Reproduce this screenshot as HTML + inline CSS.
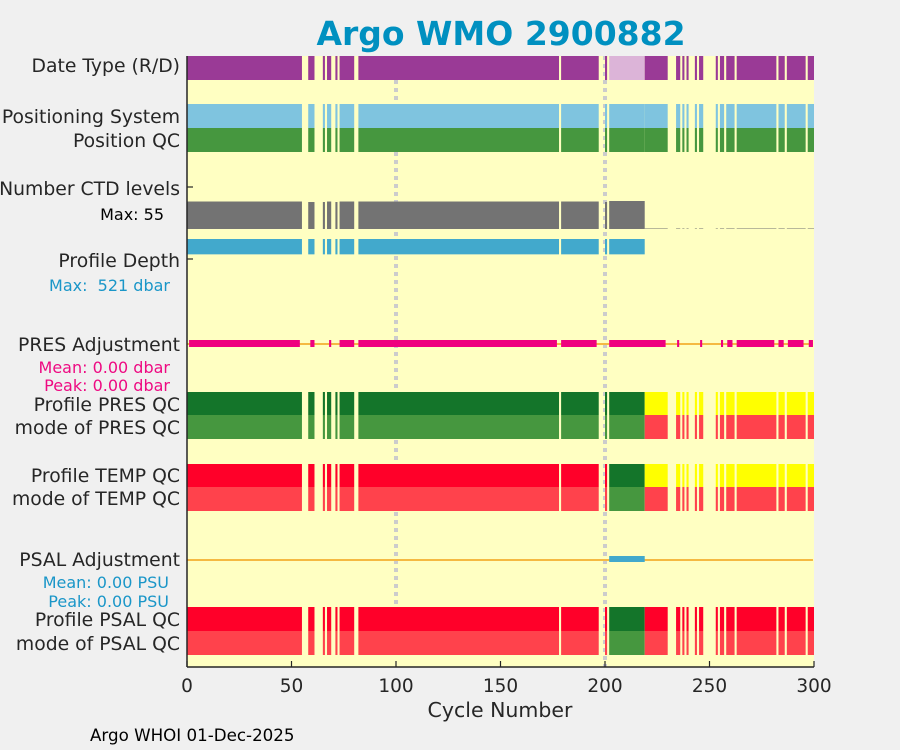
<!DOCTYPE html>
<html><head><meta charset="utf-8"><style>
html,body{margin:0;padding:0;background:#f0f0f0;}
svg{display:block;font-family:"DejaVu Sans","Liberation Sans",sans-serif;}
</style></head><body>
<svg id="chart" width="900" height="750">
<rect x="187" y="56" width="627" height="611" fill="#ffffc2"/>
<text x="501" y="45" text-anchor="middle" font-size="33" font-weight="bold" fill="#0090c0">Argo WMO 2900882</text>
<g id="labels" font-size="18.8" fill="#262626" text-anchor="end">
<text x="180" y="72">Date Type (R/D)</text>
<text x="180" y="123">Positioning System</text>
<text x="180" y="147">Position QC</text>
<text x="180" y="195">Number CTD levels</text>
<text x="164" y="220" font-size="16" fill="#000">Max: 55</text>
<text x="180" y="267">Profile Depth</text>
<text x="170" y="291" font-size="16" fill="#1a96c8" xml:space="preserve">Max:  521 dbar</text>
<text x="180" y="351">PRES Adjustment</text>
<text x="170" y="373" font-size="16" fill="#ee0a82">Mean: 0.00 dbar</text>
<text x="170" y="391" font-size="16" fill="#ee0a82">Peak: 0.00 dbar</text>
<text x="180" y="411">Profile PRES QC</text>
<text x="180" y="434">mode of PRES QC</text>
<text x="180" y="482">Profile TEMP QC</text>
<text x="180" y="505">mode of TEMP QC</text>
<text x="180" y="566">PSAL Adjustment</text>
<text x="169" y="588" font-size="16" fill="#1a96c8">Mean: 0.00 PSU</text>
<text x="169" y="607" font-size="16" fill="#1a96c8">Peak: 0.00 PSU</text>
<text x="180" y="626">Profile PSAL QC</text>
<text x="180" y="650">mode of PSAL QC</text>
</g>
<g id="marks"></g>
<text x="500" y="717" text-anchor="middle" font-size="20.5" fill="#262626">Cycle Number</text>
<text x="90" y="741" font-size="16.7" fill="#000">Argo WHOI 01-Dec-2025</text>
</svg>
<script>
const segStart=[0,58,65,67,71,73,82,179,200,202,219,234,237,239,243,245,253,255,258,263,283,287,297];
const segEnd=[55,61,66,69,72,80,178,197,201,219,230,236,238,240,244,247,254,257,262,282,286,296,300];
const dateType=['R','R','R','R','R','R','R','R','R','D','R','R','R','R','R','R','R','R','R','R','R','R','R'];
const ctdLevels=[54,53,53,54,53,54,54,54,53,55,1,1,1,1,1,1,1,1,1,1,1,1,1];
const profDepth=[500,500,500,500,500,500,500,500,500,500,0,0,0,0,0,0,0,0,0,0,0,0,0];
const presProfQC=['A','A','A','A','A','A','A','A','A','A','E','E','E','E','E','E','E','E','E','E','E','E','E'];
const presModeQC=['1','1','1','1','1','1','1','1','1','1','4','4','4','4','4','4','4','4','4','4','4','4','4'];
const tempProfQC=['F','F','F','F','F','F','F','F','F','A','E','E','E','E','E','E','E','E','E','E','E','E','E'];
const tempModeQC=['4','4','4','4','4','4','4','4','4','1','4','4','4','4','4','4','4','4','4','4','4','4','4'];
const psalProfQC=['F','F','F','F','F','F','F','F','F','A','F','F','F','F','F','F','F','F','F','F','F','F','F'];
const psalModeQC=['4','4','4','4','4','4','4','4','4','1','4','4','4','4','4','4','4','4','4','4','4','4','4'];
const presAdjStart=[1,59,68,73,82,179,202,234.5,245.5,255.5,258.5,263,283,287.5,297.5];
const presAdjEnd=[54,61,69,80,177,196,229,235.5,246.5,256.5,261,281,285.5,295,299.5];
const psalAdjStart=[202];
const psalAdjEnd=[219];
const xTicks=[0,50,100,150,200,250,300];

const NS='http://www.w3.org/2000/svg';
const g=document.getElementById('marks');
const X0=187,X1=814,XMAX=300,YB=667;
function xs(c){return X0+(X1-X0)*c/XMAX;}
function rect(x,y,w,h,fill,name){
  const r=document.createElementNS(NS,'rect');
  r.setAttribute('x',x);r.setAttribute('y',y);r.setAttribute('width',Math.max(w,0.5));r.setAttribute('height',h);r.setAttribute('fill',fill);
  
  
  g.appendChild(r);return r;
}
function line(x1,y1,x2,y2,stroke,w,name,dash){
  const l=document.createElementNS(NS,'line');
  l.setAttribute('x1',x1);l.setAttribute('y1',y1);l.setAttribute('x2',x2);l.setAttribute('y2',y2);
  l.setAttribute('stroke',stroke);l.setAttribute('stroke-width',w);
  if(dash)l.setAttribute('stroke-dasharray',dash);
  
  
  g.appendChild(l);return l;
}
line(xs(100),80,xs(100),605,'#cccccc',4,'cycle-100-reference-line','4 4');
line(xs(200),56,xs(200),667,'#cccccc',4,'cycle-200-reference-line','4 4');

const profCol={A:'#14752a',E:'#ffff00',F:'#ff0029'};
const modeCol={'1':'#46973f','4':'#ff424c'};
for(let i=0;i<segStart.length;i++){
  const x=xs(segStart[i]),w=xs(segEnd[i])-xs(segStart[i]);
  rect(x,56,w,24,dateType[i]==='D'?'#dcb4d8':'#9a3a96','date-type-bar');
  rect(x,104,w,24,'#7fc4df','positioning-system-bar');
  rect(x,128,w,24,'#46973f','position-qc-bar');
  const hc=28*ctdLevels[i]/55;
  rect(x,229-hc,w,hc,'#737373','ctd-levels-bar');
  if(profDepth[i]>0){rect(x,239,w,16*profDepth[i]/521,'#42a9cc','profile-depth-bar');}
  rect(x,392,w,23,profCol[presProfQC[i]],'profile-pres-qc-bar');
  rect(x,415,w,24,modeCol[presModeQC[i]],'mode-pres-qc-bar');
  rect(x,464,w,23,profCol[tempProfQC[i]],'profile-temp-qc-bar');
  rect(x,487,w,24,modeCol[tempModeQC[i]],'mode-temp-qc-bar');
  rect(x,607,w,24,profCol[psalProfQC[i]],'profile-psal-qc-bar');
  rect(x,631,w,24,modeCol[psalModeQC[i]],'mode-psal-qc-bar');
}
line(xs(0),344,xs(299.5),344,'#f5b942',2,'pres-adjustment-zero-line');
for(let i=0;i<presAdjStart.length;i++){
  rect(xs(presAdjStart[i]),340,xs(presAdjEnd[i])-xs(presAdjStart[i]),7,'#ef007f','pres-adjustment-bar');
}
line(xs(0),560,xs(299.5),560,'#f5b942',2,'psal-adjustment-zero-line');
for(let i=0;i<psalAdjStart.length;i++){
  rect(xs(psalAdjStart[i]),556,xs(psalAdjEnd[i])-xs(psalAdjStart[i]),6,'#42a9cc','psal-adjustment-bar');
}
line(187,56,187,YB,'#262626',1.5,'y-axis-line');
line(187,YB,814,YB,'#262626',1.5,'x-axis-line');
line(187,187,193,187,'#262626',1.2,'ctd-levels-tick');
line(187,259,193,259,'#262626',1.2,'profile-depth-tick');
for(const t of xTicks){
  const x=xs(t);
  line(x,YB,x,YB-6,'#262626',1.2,'x-tick');
  const tx=document.createElementNS(NS,'text');
  tx.setAttribute('x',x);tx.setAttribute('y',692);tx.setAttribute('text-anchor','middle');
  tx.setAttribute('font-size','18.5');tx.setAttribute('fill','#262626');
  
  
  tx.textContent=t;g.appendChild(tx);
}
</script>
</body></html>
